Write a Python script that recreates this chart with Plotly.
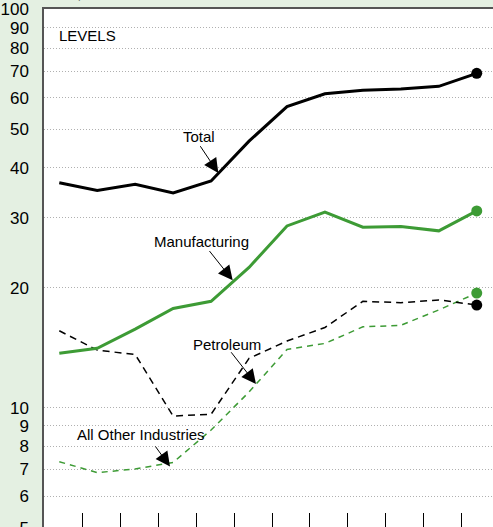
import math
import plotly.graph_objects as go

# ---- data (x labels are not shown in the picture) ----
periods = list(range(12))
total = [36.7, 35.1, 36.4, 34.6, 37.1, 46.7, 57.0, 61.4, 62.7, 63.1, 64.1, 69.1]
manufacturing = [13.7, 14.1, 15.75, 17.75, 18.5, 22.5, 28.6, 31.0, 28.4, 28.5, 27.8, 31.2]
petroleum = [15.6, 13.95, 13.6, 9.53, 9.63, 13.3, 14.7, 15.9, 18.5, 18.35, 18.65, 18.1]
all_other = [7.32, 6.87, 7.02, 7.29, 8.79, 10.95, 14.0, 14.5, 15.96, 16.1, 17.6, 19.4]

y_tick_values = [5, 6, 7, 8, 9, 10, 20, 30, 40, 50, 60, 70, 80, 90, 100]
y_tick_labels = [str(v) for v in y_tick_values]
x_tick_positions = [i + 0.606 for i in range(11)]

BLACK = "#000000"
GREEN = "#3d9b35"
FONT = "Arial, Liberation Sans, sans-serif"

fig = go.Figure()

fig.add_trace(go.Scatter(x=periods, y=all_other, mode="lines",
                         line=dict(color=GREEN, width=1.5, dash="6px,5px")))
fig.add_trace(go.Scatter(x=periods, y=petroleum, mode="lines",
                         line=dict(color=BLACK, width=1.5, dash="7px,5px")))
fig.add_trace(go.Scatter(x=periods, y=manufacturing, mode="lines",
                         line=dict(color=GREEN, width=3)))
fig.add_trace(go.Scatter(x=periods, y=total, mode="lines",
                         line=dict(color=BLACK, width=3)))

# end-point markers
for series, col in [(petroleum, BLACK), (all_other, GREEN), (manufacturing, GREEN), (total, BLACK)]:
    fig.add_trace(go.Scatter(x=[periods[-1]], y=[series[-1]], mode="markers",
                             marker=dict(color=col, size=11, line=dict(width=0))))

# ---- labels ----
texts = [
    ("LEVELS", -0.06, 1.935, "left"),
    ("Total", 3.681, 1.681, "center"),
    ("Manufacturing", 3.76, 1.4185, "center"),
    ("Petroleum", 4.411, 1.1597, "center"),
    ("All Other Industries", 2.148, 0.9316, "center"),
]
for t, x, y, xa in texts:
    fig.add_annotation(x=x, y=y, xref="x", yref="y", text=t, showarrow=False,
                       xanchor=xa, yanchor="middle",
                       font=dict(family=FONT, size=15, color="black"))

arrows = [  # tip (x, log y), tail offset in px
    (4.19, 1.589, -19, -28.4),
    (4.569, 1.320, -24.4, -30.7),
    (5.183, 1.0594, -26, -33.3),
    (2.917, 0.8521, -15.7, -21.7),
]
for x, y, ax, ay in arrows:
    fig.add_annotation(x=x, y=y, xref="x", yref="y", text="", showarrow=True,
                       ax=ax, ay=ay, arrowhead=2, arrowsize=2.9, arrowwidth=1,
                       arrowcolor="black", standoff=0)

fig.add_annotation(x=-0.0702, y=1, xref="paper", yref="paper", text="Billion $, ratio scale",
                   showarrow=False, xanchor="left", yanchor="bottom", yshift=5,
                   font=dict(family=FONT, size=18, color="black"))

W, H = 500, 545
fig.update_layout(
    width=W, height=H,
    margin=dict(l=44, r=0, t=9, b=H - 528, pad=0),
    paper_bgcolor="#e4f0e2",
    plot_bgcolor="white",
    showlegend=False,
    font=dict(family=FONT, color="black"),
)
fig.update_xaxes(
    range=[-0.403, 11.613], showgrid=False, zeroline=False,
    showline=True, mirror=True, linecolor="#555555", linewidth=1.5,
    tickmode="array", tickvals=x_tick_positions, ticks="inside", ticklen=15,
    tickwidth=1, tickcolor="black", showticklabels=False,
)
fig.update_yaxes(
    type="log", range=[0.698, 2.001],
    tickmode="array", tickvals=y_tick_values, ticktext=y_tick_labels,
    tickfont=dict(family=FONT, size=17, color="black"),
    ticks="", ticklabelstandoff=10,
    showgrid=True, gridcolor="#b0b0b0", gridwidth=1, griddash="1px,2px",
    showline=True, linecolor="#555555", linewidth=1.5, zeroline=False,
)

fig.write_html("out.html", config={"displayModeBar": False},
               post_script="document.body.style.margin='0';document.body.style.overflow='hidden';")
